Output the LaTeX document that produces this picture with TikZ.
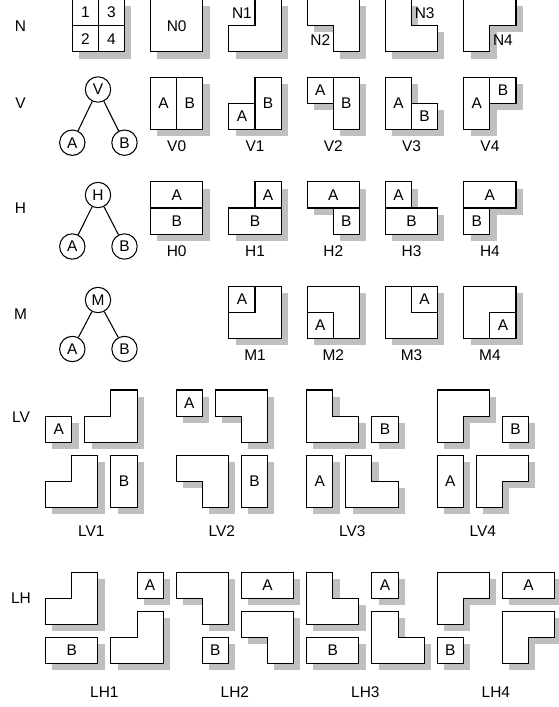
\documentclass[tikz,border=0pt]{standalone}
\usepackage{fontspec}
\setmainfont{Liberation Sans}
\definecolor{shadowc}{rgb}{0.75,0.75,0.75}
\pgfdeclarelayer{bg}
\pgfsetlayers{bg,main}
\tikzset{
  piece/.style={draw=black, fill=white, line width=0.8pt, line join=miter},
  box/.style={piece, inner sep=0pt, outer sep=0pt},
  cell/.style={box, minimum width=19.575pt, minimum height=19.575pt},
  tall/.style={box, minimum width=19.575pt, minimum height=39.15pt},
  wide/.style={box, minimum width=39.15pt, minimum height=19.575pt},
  big/.style={box, minimum width=39.15pt, minimum height=39.15pt},
  inner/.style={piece, inner sep=0pt, outer sep=0pt, minimum width=19.575pt, minimum height=19.575pt},
  tnode/.style={circle, draw=black, line width=0.8pt, inner sep=0pt, minimum size=19.05pt},
  edge/.style={line width=0.8pt},
  lbl/.style={inner sep=0pt},
  shadowfill/.style={fill=shadowc, draw=none}
}
% shadow rectangle: corners (#1,#2) and (#3,#4), shifted by 6.7 right and down
\newcommand\shr[4]{\pgfmathsetmacro\ax{#1+6.7}\pgfmathsetmacro\ay{#2+6.7}\pgfmathsetmacro\bx{#3+6.7}\pgfmathsetmacro\by{#4+6.7}%
  \begin{pgfonlayer}{bg}\fill[shadowfill] (\ax,\ay) rectangle (\bx,\by);\end{pgfonlayer}}
% L shapes, origin = top-left corner of the 2u x 2u square (u = 26.1)
\newcommand\LTL[2]{\pgfmathsetmacro\xa{#1}\pgfmathsetmacro\xb{#1+26.1}\pgfmathsetmacro\xc{#1+52.2}%
  \pgfmathsetmacro\ya{#2}\pgfmathsetmacro\yb{#2+26.1}\pgfmathsetmacro\yc{#2+52.2}%
  \shr{\xb}{\ya}{\xc}{\yb}\shr{\xa}{\yb}{\xc}{\yc}%
  \draw[piece] (\xb,\ya) -- (\xc,\ya) -- (\xc,\yc) -- (\xa,\yc) -- (\xa,\yb) -- (\xb,\yb) -- cycle;}
\newcommand\LTR[2]{\pgfmathsetmacro\xa{#1}\pgfmathsetmacro\xb{#1+26.1}\pgfmathsetmacro\xc{#1+52.2}%
  \pgfmathsetmacro\ya{#2}\pgfmathsetmacro\yb{#2+26.1}\pgfmathsetmacro\yc{#2+52.2}%
  \shr{\xa}{\ya}{\xb}{\yb}\shr{\xa}{\yb}{\xc}{\yc}%
  \draw[piece] (\xa,\ya) -- (\xb,\ya) -- (\xb,\yb) -- (\xc,\yb) -- (\xc,\yc) -- (\xa,\yc) -- cycle;}
\newcommand\LBL[2]{\pgfmathsetmacro\xa{#1}\pgfmathsetmacro\xb{#1+26.1}\pgfmathsetmacro\xc{#1+52.2}%
  \pgfmathsetmacro\ya{#2}\pgfmathsetmacro\yb{#2+26.1}\pgfmathsetmacro\yc{#2+52.2}%
  \shr{\xa}{\ya}{\xc}{\yb}\shr{\xb}{\yb}{\xc}{\yc}%
  \draw[piece] (\xa,\ya) -- (\xc,\ya) -- (\xc,\yc) -- (\xb,\yc) -- (\xb,\yb) -- (\xa,\yb) -- cycle;}
\newcommand\LBR[2]{\pgfmathsetmacro\xa{#1}\pgfmathsetmacro\xb{#1+26.1}\pgfmathsetmacro\xc{#1+52.2}%
  \pgfmathsetmacro\ya{#2}\pgfmathsetmacro\yb{#2+26.1}\pgfmathsetmacro\yc{#2+52.2}%
  \shr{\xa}{\ya}{\xc}{\yb}\shr{\xa}{\yb}{\xb}{\yc}%
  \draw[piece] (\xa,\ya) -- (\xc,\ya) -- (\xc,\yb) -- (\xb,\yb) -- (\xb,\yc) -- (\xa,\yc) -- cycle;}
\begin{document}
\begin{tikzpicture}[x=0.75pt, y=-0.75pt, every node/.style={font=\fontsize{11.6}{14}\selectfont}]
\useasboundingbox (0,0) rectangle (558,707);

% ---------------- row N ----------------
\node[lbl] (rN) at (20.5,25.7) {N};
\node[cell] (g1) at (85.35,12.65) {1};
\node[cell] (g3) at (111.45,12.65) {3};
\node[cell] (g2) at (85.35,38.75) {2};
\node[cell] (g4) at (111.45,38.75) {4};
\node[big] (n0) at (176.7,25.7) {N0};
\LTL{228.9}{-0.4}
\node[lbl] (n1) at (241.95,13) {N1};
\LBL{307.2}{-0.4}
\node[lbl] (n2) at (320.25,40) {N2};
\LTR{385.5}{-0.4}
\node[lbl] (n3) at (424.65,13) {N3};
\LBR{463.8}{-0.4}
\node[lbl] (n4) at (502.95,40) {N4};

% ---------------- row V ----------------
\node[lbl] (rV) at (20.5,103.6) {V};
\node[tnode] (tv) at (98,89.5) {V};
\node[tnode] (tva) at (72.3,142.7) {A};
\node[tnode] (tvb) at (124.5,142.7) {B};
\draw[edge] (tv) -- (tva);
\draw[edge] (tv) -- (tvb);
\node[tall] (v0a) at (163.65,103.6) {A};
\node[tall] (v0b) at (189.75,103.6) {B};
\node[cell] (v1a) at (241.95,116.65) {A};
\node[tall] (v1b) at (268.05,103.6) {B};
\node[cell] (v2a) at (320.25,90.55) {A};
\node[tall] (v2b) at (346.35,103.6) {B};
\node[tall] (v3a) at (398.55,103.6) {A};
\node[cell] (v3b) at (424.65,116.65) {B};
\node[tall] (v4a) at (476.85,103.6) {A};
\node[cell] (v4b) at (502.95,90.55) {B};
\node[lbl] (lv0) at (176.7,146.5) {V0};
\node[lbl] (lv1) at (255,146.5) {V1};
\node[lbl] (lv2) at (333.3,146.5) {V2};
\node[lbl] (lv3) at (411.6,146.5) {V3};
\node[lbl] (lv4) at (489.9,146.5) {V4};

% ---------------- row H ----------------
\node[lbl] (rH) at (20.5,208) {H};
\node[tnode] (th) at (98,195) {H};
\node[tnode] (tha) at (72.3,246.5) {A};
\node[tnode] (thb) at (124.5,246.5) {B};
\draw[edge] (th) -- (tha);
\draw[edge] (th) -- (thb);
\node[wide] (h0a) at (176.7,194.95) {A};
\node[wide] (h0b) at (176.7,221.05) {B};
\node[cell] (h1a) at (268.05,194.95) {A};
\node[wide] (h1b) at (255,221.05) {B};
\node[wide] (h2a) at (333.3,194.95) {A};
\node[cell] (h2b) at (346.35,221.05) {B};
\node[cell] (h3a) at (398.55,194.95) {A};
\node[wide] (h3b) at (411.6,221.05) {B};
\node[wide] (h4a) at (489.9,194.95) {A};
\node[cell] (h4b) at (476.85,221.05) {B};
\node[lbl] (lh0) at (176.7,250.9) {H0};
\node[lbl] (lh1) at (255,250.9) {H1};
\node[lbl] (lh2) at (333.3,250.9) {H2};
\node[lbl] (lh3) at (411.6,250.9) {H3};
\node[lbl] (lh4) at (489.9,250.9) {H4};

% ---------------- row M ----------------
\node[lbl] (rM) at (20.5,314) {M};
\node[tnode] (tm) at (98,300) {M};
\node[tnode] (tma) at (72.3,349) {A};
\node[tnode] (tmb) at (124.5,349) {B};
\draw[edge] (tm) -- (tma);
\draw[edge] (tm) -- (tmb);
\node[big] (m1) at (255,312.4) {};
\node[inner] (m1a) at (241.95,299.35) {A};
\node[big] (m2) at (333.3,312.4) {};
\node[inner] (m2a) at (320.25,325.45) {A};
\node[big] (m3) at (411.6,312.4) {};
\node[inner] (m3a) at (424.65,299.35) {A};
\node[big] (m4) at (489.9,312.4) {};
\node[inner] (m4a) at (502.95,325.45) {A};
\node[lbl] (lm1) at (255,355.3) {M1};
\node[lbl] (lm2) at (333.3,355.3) {M2};
\node[lbl] (lm3) at (411.6,355.3) {M3};
\node[lbl] (lm4) at (489.9,355.3) {M4};

% ---------------- row LV ----------------
\node[lbl] (rLV) at (21,416.7) {LV};
% LV1
\node[cell] (lv1a) at (58.75,429.15) {A};
\LTL{84.85}{390}
\LTL{45.7}{455.25}
\node[tall] (lv1b) at (124,481.35) {B};
\node[lbl] (llv1) at (91.4,531.5) {LV1};
% LV2
\node[cell] (lv2a) at (189.25,403.05) {A};
\LBL{215.35}{390}
\LBL{176.2}{455.25}
\node[tall] (lv2b) at (254.5,481.35) {B};
\node[lbl] (llv2) at (221.9,531.5) {LV2};
% LV3
\LTR{306.7}{390}
\node[cell] (lv3b) at (385,429.15) {B};
\node[tall] (lv3a) at (319.75,481.35) {A};
\LTR{345.85}{455.25}
\node[lbl] (llv3) at (352.4,531.5) {LV3};
% LV4
\LBR{437.2}{390}
\node[cell] (lv4b) at (515.5,429.15) {B};
\node[tall] (lv4a) at (450.25,481.35) {A};
\LBR{476.35}{455.25}
\node[lbl] (llv4) at (482.9,531.5) {LV4};

% ---------------- row LH ----------------
\node[lbl] (rLH) at (21,598.4) {LH};
% LH1
\LTL{45.7}{572.3}
\node[cell] (lh1a) at (150.1,585.35) {A};
\node[wide] (lh1b) at (71.8,650.6) {B};
\LTL{110.95}{611.45}
\node[lbl] (llh1) at (104.4,692.5) {LH1};
% LH2
\LBL{176.2}{572.3}
\node[wide] (lh2a) at (267.55,585.35) {A};
\node[cell] (lh2b) at (215.35,650.6) {B};
\LBL{241.45}{611.45}
\node[lbl] (llh2) at (234.9,692.5) {LH2};
% LH3
\LTR{306.7}{572.3}
\node[cell] (lh3a) at (385,585.35) {A};
\node[wide] (lh3b) at (332.8,650.6) {B};
\LTR{371.95}{611.45}
\node[lbl] (llh3) at (365.4,692.5) {LH3};
% LH4
\LBR{437.2}{572.3}
\node[wide] (lh4a) at (528.55,585.35) {A};
\node[cell] (lh4b) at (450.25,650.6) {B};
\LBR{502.45}{611.45}
\node[lbl] (llh4) at (495.9,692.5) {LH4};

% ---------------- drop shadows of the rectangular pieces ----------------
\begin{pgfonlayer}{bg}
\foreach \n in {g1,g2,g3,g4,n0,v0a,v0b,v1a,v1b,v2a,v2b,v3a,v3b,v4a,v4b,
  h0a,h0b,h1a,h1b,h2a,h2b,h3a,h3b,h4a,h4b,m1,m2,m3,m4,
  lv1a,lv1b,lv2a,lv2b,lv3a,lv3b,lv4a,lv4b,lh1a,lh1b,lh2a,lh2b,lh3a,lh3b,lh4a,lh4b}
  \fill[shadowfill] ([shift={(6.7,6.7)}]\n.north west) rectangle ([shift={(6.7,6.7)}]\n.south east);
\end{pgfonlayer}
\end{tikzpicture}
\end{document}
